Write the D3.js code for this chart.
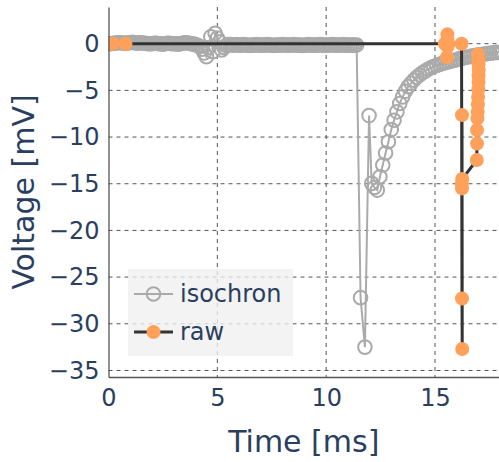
<!DOCTYPE html>
<html>
<head>
<meta charset="utf-8">
<script src="https://cdn.jsdelivr.net/npm/d3@7"></script>
<style>
  html, body { margin: 0; padding: 0; background: #fff; }
  svg { display: block; font-family: "DejaVu Sans", Verdana, sans-serif; }
</style>
</head>
<body>
<svg id="chart" width="499" height="462"></svg>
<script>
// ---------------- data ----------------
const xTicks = [0, 5, 10, 15];
const yTicks = [0, -5, -10, -15, -20, -25, -30, -35];

// isochron trace (time in ms, voltage in mV)
const isoTime = [
  0.0,0.1,0.2,0.3,0.4,0.5,0.6,0.7,0.8,0.9,
  1.0,1.1,1.2,1.3,1.4,1.5,1.6,1.7,1.8,1.9,
  2.0,2.1,2.2,2.3,2.4,2.5,2.6,2.7,2.8,2.9,
  3.0,3.1,3.2,3.3,3.4,3.5,3.6,3.7,3.8,3.9,
  4.0,4.1,4.2,4.3,4.4,4.5,4.6,4.7,4.8,4.9,
  5.0,5.1,5.2,5.3,5.4,5.5,5.6,5.7,5.8,5.9,
  6.0,6.1,6.2,6.3,6.4,6.5,6.6,6.7,6.8,6.9,
  7.0,7.1,7.2,7.3,7.4,7.5,7.6,7.7,7.8,7.9,
  8.0,8.1,8.2,8.3,8.4,8.5,8.6,8.7,8.8,8.9,
  9.0,9.1,9.2,9.3,9.4,9.5,9.6,9.7,9.8,9.9,
  10.0,10.1,10.2,10.3,10.4,10.5,10.6,10.7,10.8,10.9,
  11.0,11.1,11.2,11.3,11.4,
  11.58,11.78,11.97,12.09,12.22,12.35,
  12.47,12.60,12.73,12.86,12.99,13.12,13.25,13.38,13.51,13.64,
  13.77,13.90,14.03,14.16,14.29,14.42,14.55,14.68,14.81,14.94,
  15.07,15.20,15.33,15.46,15.59,15.72,15.85,15.98,16.11,16.24,
  16.37,16.50,16.63,16.76,16.89,17.02,17.15,17.28,17.41,17.54,
  17.67,17.80,17.93,18.06
];
const isoVolt = [
  0,0,0.05,0.05,0.1,0.1,0.1,0.05,0.05,0.1,
  0.1,0.15,0.1,0.05,0.1,0.1,0.05,0.05,0,0,
  0,0.05,0.05,0,0,-0.05,0,0.05,0.05,0,
  0,0,-0.05,0,0.05,0.1,0.1,0.05,0,-0.05,
  -0.1,-0.2,-0.3,-0.6,-1.0,-1.39,-0.4,0.75,-0.86,1.11,
  0.6,0.2,-0.67,-0.4,-0.2,-0.1,-0.1,-0.15,-0.15,-0.1,
  -0.15,-0.15,-0.1,-0.15,-0.15,-0.2,-0.15,-0.15,-0.1,-0.15,
  -0.15,-0.15,-0.15,-0.1,-0.15,-0.15,-0.2,-0.15,-0.15,-0.15,
  -0.1,-0.15,-0.15,-0.15,-0.15,-0.1,-0.15,-0.15,-0.15,-0.2,
  -0.15,-0.15,-0.1,-0.15,-0.15,-0.15,-0.15,-0.1,-0.15,-0.15,
  -0.15,-0.15,-0.15,-0.1,-0.15,-0.15,-0.15,-0.15,-0.1,-0.15,
  -0.15,-0.15,-0.15,-0.15,-0.15,
  -27.2,-32.5,-7.7,-14.96,-15.4,-15.68,
  -14.25,-13.0,-11.7,-10.5,-9.2,-8.2,-7.3,-6.4,-5.7,-5.1,
  -4.6,-4.25,-3.9,-3.6,-3.35,-3.12,-2.92,-2.74,-2.58,-2.45,
  -2.33,-2.22,-2.12,-2.03,-1.95,-1.87,-1.8,-1.72,-1.63,-1.56,
  -1.49,-1.42,-1.36,-1.3,-1.25,-1.2,-1.15,-1.1,-1.06,-1.02,
  -0.98,-0.95,-0.92,-0.9
];

// raw trace
const rawTime = [
  0.2, 0.78, 15.45, 15.57, 15.58, 15.55, 15.57, 15.6, 16.22,
  16.24, 16.25, 16.24, 16.23, 16.24, 16.25,
  16.92, 16.93, 16.93, 16.95, 16.96, 16.97, 16.98, 16.99, 17.0, 17.0, 17.01, 17.0, 16.99, 16.98
];
const rawVolt = [
  0, 0, 0, 1.0, -0.3, -1.45, 0.4, 0, 0,
  -27.3, -32.7, -7.65, -15.0, -15.5, -14.5,
  -12.45, -10.7, -9.25, -8.0, -7.3, -6.5, -5.7, -4.9, -4.1, -3.4, -2.8, -2.2, -1.7, -1.16
];

const seriesNames = ["isochron", "raw"];
const xTitle = "Time [ms]";
const yTitle = "Voltage [mV]";

// ---------------- layout ----------------
const plot = { left: 108.5, right: 499, top: 7, bottom: 377 };
const textColor = "#2a3f5f";
const gridColor = "#555555";
const isoColor = "#aaaaaa";
const rawColor = "#ffa15a";
const rawLine = "#333333";

const x = d3.scaleLinear().domain([0, 17.94]).range([plot.left, plot.right]);
const y = d3.scaleLinear().domain([-35.7, 3.93]).range([plot.bottom, plot.top]);

const svg = d3.select("#chart");

// grid
const grid = svg.append("g");
grid.selectAll("line.gx").data(xTicks.filter(d => d !== 0)).join("line")
  .attr("x1", d => x(d)).attr("x2", d => x(d))
  .attr("y1", plot.top).attr("y2", plot.bottom)
  .attr("stroke", gridColor).attr("stroke-width", 1).attr("stroke-dasharray", "4,4");
grid.selectAll("line.gy").data(yTicks).join("line")
  .attr("x1", plot.left).attr("x2", plot.right)
  .attr("y1", d => y(d)).attr("y2", d => y(d))
  .attr("stroke", gridColor).attr("stroke-width", 1).attr("stroke-dasharray", "4,4");

// clip
svg.append("clipPath").attr("id", "clip").append("rect")
  .attr("x", plot.left).attr("y", plot.top)
  .attr("width", plot.right - plot.left).attr("height", plot.bottom - plot.top);

const data = svg.append("g").attr("clip-path", "url(#clip)");
const iso = isoTime.map((t, i) => [t, isoVolt[i]]);
const raw = rawTime.map((t, i) => [t, rawVolt[i]]);
const line = d3.line().x(d => x(d[0])).y(d => y(d[1]));

data.append("path").datum(iso).attr("d", line)
  .attr("fill", "none").attr("stroke", isoColor).attr("stroke-width", 2);
data.append("g").selectAll("circle").data(iso).join("circle")
  .attr("cx", d => x(d[0])).attr("cy", d => y(d[1])).attr("r", 6.8)
  .attr("fill", "none").attr("stroke", isoColor).attr("stroke-width", 2);

data.append("path").datum(raw).attr("d", line)
  .attr("fill", "none").attr("stroke", rawLine).attr("stroke-width", 3);
data.append("g").selectAll("circle").data(raw).join("circle")
  .attr("cx", d => x(d[0])).attr("cy", d => y(d[1])).attr("r", 7)
  .attr("fill", rawColor);

// axes
const xAxis = d3.axisBottom(x).tickValues(xTicks).tickSize(0).tickPadding(12)
  .tickFormat(d3.format("d"));
const gx = svg.append("g").attr("transform", `translate(0,${plot.bottom})`).call(xAxis);
gx.select(".domain").attr("stroke", "#555").attr("stroke-width", 1.3);
gx.selectAll("text").attr("fill", textColor).attr("font-size", 24)
  .attr("font-family", "DejaVu Sans");

const yAxis = d3.axisLeft(y).tickValues(yTicks).tickSize(0).tickPadding(9)
  .tickFormat(d => d < 0 ? "\u2212" + Math.abs(d) : String(d));
const gy = svg.append("g").attr("transform", `translate(${plot.left},0)`).call(yAxis);
gy.select(".domain").attr("stroke", "#555").attr("stroke-width", 1.3);
gy.selectAll("text").attr("fill", textColor).attr("font-size", 24)
  .attr("font-family", "DejaVu Sans");

// titles
svg.append("text").attr("x", (plot.left + plot.right) / 2).attr("y", 452)
  .attr("text-anchor", "middle").attr("fill", textColor).attr("font-size", 30)
  .text(xTitle);
svg.append("text")
  .attr("transform", `translate(34,${(plot.top + plot.bottom) / 2}) rotate(-90)`)
  .attr("text-anchor", "middle").attr("fill", textColor).attr("font-size", 30)
  .text(yTitle);

// legend
const lg = svg.append("g");
lg.append("rect").attr("x", 128).attr("y", 269).attr("width", 165).attr("height", 87)
  .attr("fill", "#f0f0f0").attr("fill-opacity", 0.78);
const legendRows = [
  { name: seriesNames[0], y: 294, lineColor: isoColor, lw: 2, open: true },
  { name: seriesNames[1], y: 332, lineColor: rawLine, lw: 3, open: false }
];
legendRows.forEach(r => {
  lg.append("line").attr("x1", 134).attr("x2", 173).attr("y1", r.y).attr("y2", r.y)
    .attr("stroke", r.lineColor).attr("stroke-width", r.lw);
  if (r.open) {
    lg.append("circle").attr("cx", 153.5).attr("cy", r.y).attr("r", 6.8)
      .attr("fill", "none").attr("stroke", isoColor).attr("stroke-width", 2);
  } else {
    lg.append("circle").attr("cx", 153.5).attr("cy", r.y).attr("r", 7)
      .attr("fill", rawColor);
  }
  lg.append("text").attr("x", 180).attr("y", r.y).attr("dy", "0.35em")
    .attr("fill", textColor).attr("font-size", 24).text(r.name);
});
</script>
</body>
</html>
